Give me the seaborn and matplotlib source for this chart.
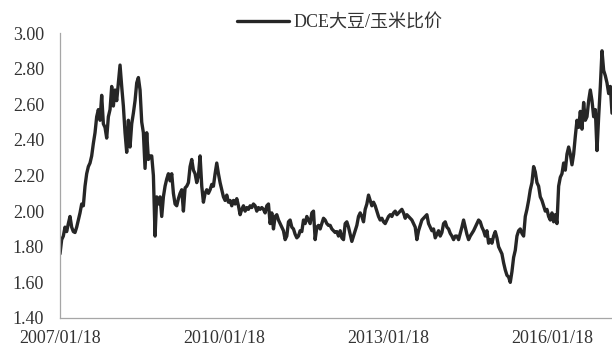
import matplotlib
matplotlib.use("Agg")
import matplotlib.pyplot as plt
import matplotlib.dates as mdates
import numpy as np
import pandas as pd
import seaborn as sns

# Sample window of the DCE soybean / corn price ratio
start_date = "2007-01-18"
end_date = "2017-02-17"

ratio = [
    1.76, 1.84, 1.86, 1.91, 1.885, 1.93, 1.97, 1.91, 1.885, 1.88,
    1.91, 1.95, 1.99, 2.04, 2.03, 2.14, 2.21, 2.25, 2.27, 2.31,
    2.38, 2.44, 2.53, 2.57, 2.51, 2.65, 2.49, 2.47, 2.41, 2.53,
    2.57, 2.70, 2.59, 2.68, 2.62, 2.72, 2.82, 2.70, 2.59, 2.44,
    2.33, 2.51, 2.36, 2.49, 2.55, 2.62, 2.72, 2.75, 2.68, 2.50,
    2.44, 2.24, 2.44, 2.29, 2.31, 2.31, 2.20, 1.86, 2.08, 2.04,
    2.08, 1.97, 2.08, 2.14, 2.18, 2.21, 2.17, 2.21, 2.10, 2.04,
    2.03, 2.07, 2.10, 2.12, 2.00, 2.13, 2.14, 2.16, 2.25, 2.29,
    2.23, 2.21, 2.16, 2.20, 2.31, 2.14, 2.05, 2.10, 2.12, 2.10,
    2.12, 2.15, 2.14, 2.21, 2.27, 2.21, 2.16, 2.12, 2.08, 2.06,
    2.09, 2.05, 2.06, 2.03, 2.06, 2.04, 2.07, 2.03, 1.98, 2.01,
    2.03, 2.00, 2.02, 2.01, 2.03, 2.02, 2.04, 2.03, 2.00, 2.02,
    2.01, 2.02, 2.01, 1.99, 2.03, 2.04, 1.93, 1.99, 1.90, 1.97,
    1.98, 1.95, 1.93, 1.91, 1.89, 1.84, 1.86, 1.94, 1.95, 1.91,
    1.90, 1.87, 1.85, 1.86, 1.89, 1.885, 1.95, 1.93, 1.97, 1.95,
    1.93, 1.99, 2.00, 1.84, 1.91, 1.92, 1.90, 1.93, 1.96, 1.95,
    1.93, 1.92, 1.92, 1.90, 1.89, 1.88, 1.885, 1.86, 1.89, 1.85,
    1.84, 1.93, 1.94, 1.91, 1.87, 1.83, 1.86, 1.89, 1.92, 1.97,
    1.99, 1.97, 1.94, 2.01, 2.04, 2.09, 2.06, 2.03, 2.05, 2.03,
    2.00, 1.97, 1.95, 1.96, 1.94, 1.93, 1.95, 1.97, 1.98, 1.97,
    1.99, 2.00, 1.98, 1.99, 2.00, 2.01, 1.99, 1.96, 1.98, 1.97,
    1.96, 1.95, 1.93, 1.91, 1.84, 1.89, 1.92, 1.95, 1.96, 1.97,
    1.98, 1.93, 1.91, 1.89, 1.90, 1.85, 1.87, 1.89, 1.86, 1.88,
    1.93, 1.94, 1.91, 1.90, 1.875, 1.86, 1.84, 1.86, 1.86, 1.84,
    1.875, 1.91, 1.95, 1.91, 1.87, 1.84, 1.86, 1.875, 1.89, 1.91,
    1.93, 1.95, 1.94, 1.91, 1.89, 1.86, 1.89, 1.82, 1.84, 1.82,
    1.86, 1.885, 1.85, 1.80, 1.78, 1.76, 1.71, 1.67, 1.64, 1.63,
    1.60, 1.66, 1.74, 1.78, 1.86, 1.89, 1.90, 1.875, 1.86, 1.97,
    2.01, 2.06, 2.12, 2.16, 2.25, 2.22, 2.16, 2.14, 2.08, 2.06,
    2.03, 2.00, 2.01, 1.97, 1.95, 1.99, 1.94, 1.98, 1.93, 2.14,
    2.19, 2.21, 2.27, 2.23, 2.32, 2.36, 2.32, 2.26, 2.32, 2.42,
    2.51, 2.47, 2.56, 2.46, 2.61, 2.51, 2.53, 2.62, 2.68, 2.62,
    2.53, 2.57, 2.34, 2.53, 2.70, 2.90, 2.79, 2.76, 2.72, 2.66,
    2.70, 2.55,
]

tick_dates = ["2007-01-18", "2010-01-18", "2013-01-18", "2016-01-18"]
y_ticks = [1.40, 1.60, 1.80, 2.00, 2.20, 2.40, 2.60, 2.80, 3.00]
series_label = "DCE大豆/玉米比价"

dates = pd.date_range(start_date, end_date, periods=len(ratio))
df = pd.DataFrame({"date": dates, "ratio": ratio})

sns.set_theme(style="white")
plt.rcParams["font.family"] = ["Liberation Serif", "Noto Sans CJK SC", "DejaVu Sans"]

fig = plt.figure(figsize=(6.12, 3.47), dpi=100)
ax = fig.add_axes([60 / 612, 1 - 318 / 347, 552 / 612, 285 / 347])

sns.lineplot(data=df, x="date", y="ratio", ax=ax, color="#262626",
             linewidth=2.4, label=series_label, legend=False)

ax.set_xlim(pd.Timestamp(start_date), pd.Timestamp(end_date))
ax.set_ylim(1.40, 3.00)
ax.set_yticks(y_ticks)
ax.set_yticklabels([f"{v:.2f}" for v in y_ticks])
ax.set_xticks([pd.Timestamp(d) for d in tick_dates])
ax.xaxis.set_major_formatter(mdates.DateFormatter("%Y/%m/%d"))
ax.set_xlabel("")
ax.set_ylabel("")

for side in ("top", "right"):
    ax.spines[side].set_visible(False)
for side in ("left", "bottom"):
    ax.spines[side].set_color("#a6a6a6")
    ax.spines[side].set_linewidth(0.9)

ax.tick_params(axis="both", which="major", direction="out", length=4.5,
               width=0.9, color="#a6a6a6", labelsize=13, labelcolor="#333333")
ax.tick_params(axis="y", pad=7)
ax.tick_params(axis="x", pad=4)

fig.legend(loc="center", bbox_to_anchor=(340 / 612, 1 - 23 / 347),
           frameon=False, fontsize=13, handlelength=2.9, handletextpad=0.25,
           labelcolor="#333333")

fig.savefig("out.png", dpi=100)
